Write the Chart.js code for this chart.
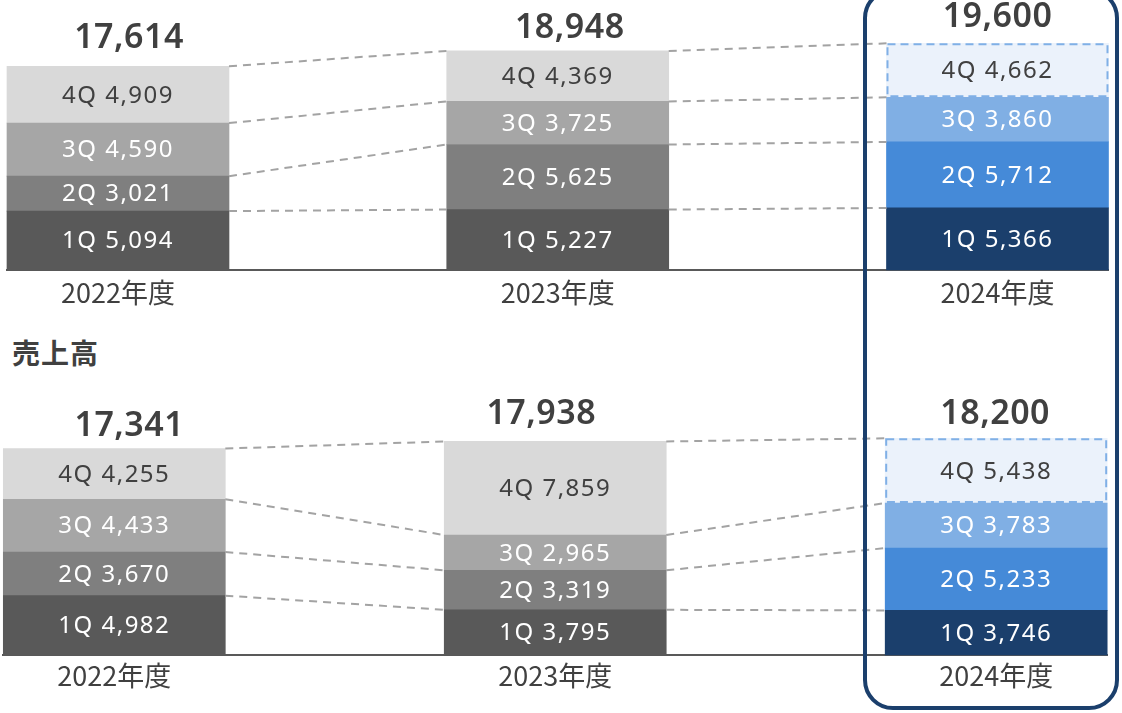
<!DOCTYPE html>
<html><head><meta charset="utf-8">
<script src="https://cdn.jsdelivr.net/npm/chart.js@4.4.1/dist/chart.umd.min.js"></script>
<style>
html,body{margin:0;padding:0;background:#fff;width:1122px;height:713px;overflow:hidden;position:relative;}
#cA{position:absolute;left:0;top:0;}
#cB{position:absolute;left:0;top:380px;}
#title{position:absolute;left:12px;top:332px;font:700 28px "Noto Sans CJK JP";color:#404040;line-height:40px;letter-spacing:1px;}
#hl{position:absolute;left:863px;top:-12px;width:256px;height:722px;border:4px solid #1b3f6c;border-radius:30px;box-sizing:border-box;pointer-events:none;z-index:5;}
</style></head>
<body>
<canvas id="cA" width="1122" height="330"></canvas>
<div id="title">売上高</div>
<canvas id="cB" width="1122" height="333"></canvas>
<div id="hl"></div>
<script>
// ---- data ----
const YEARS = ['2022年度', '2023年度', '2024年度'];
const YEAR_POS = [0, 1, 2];
const QUARTERS = ['1Q', '2Q', '3Q', '4Q'];

// upper chart (title cut off in the source)
const TOP_1Q = [5094, 5227, 5366];
const TOP_2Q = [3021, 5625, 5712];
const TOP_3Q = [4590, 3725, 3860];
const TOP_4Q = [4909, 4369, 4662];
const TOP_TOTAL = [17614, 18948, 19600];

// 売上高
const SALES_1Q = [4982, 3795, 3746];
const SALES_2Q = [3670, 3319, 5233];
const SALES_3Q = [4433, 2965, 3783];
const SALES_4Q = [4255, 7859, 5438];
const SALES_TOTAL = [17341, 17938, 18200];

const FORECAST_4Q = [false, false, true];

// ---- styles ----
const GRAY = ['#595959', '#7f7f7f', '#a6a6a6', '#d9d9d9'];
const BLUE = ['#1b3f6c', '#458ad8', '#80afe4', '#ebf2fb'];
const HIGHLIGHT = 2;
// total-label nudges relative to the top of each stack (px)
const TOP_TOTAL_NUDGE = { dx: [11, 12, 0], dy: [-28, -23, -26] };
const SALES_TOTAL_NUDGE = { dx: [15, -14, -1], dy: [-22, -27, -24] };
const fmt = v => v.toLocaleString('en-US');

const stackDeco = {
  id: 'stackDeco',
  afterDatasetsDraw(chart, args, opts) {
    const ctx = chart.ctx;
    const dsets = chart.data.datasets;
    const metas = dsets.map((d, i) => chart.getDatasetMeta(i));
    const top = metas[metas.length - 1];
    ctx.save();
    // connectors between stacks
    ctx.setLineDash([8, 6]);
    ctx.lineWidth = 2;
    ctx.strokeStyle = '#a3a3a3';
    metas.forEach(m => {
      for (let i = 0; i < m.data.length - 1; i++) {
        const a = m.data[i], b = m.data[i + 1];
        ctx.beginPath();
        ctx.moveTo(a.x + a.width / 2, a.y);
        ctx.lineTo(b.x - b.width / 2, b.y);
        ctx.stroke();
      }
    });
    // forecast dashed border
    ctx.setLineDash([8, 5]);
    ctx.strokeStyle = '#80b0e6';
    opts.forecast.forEach((f, i) => {
      if (!f) return;
      const e = top.data[i];
      ctx.strokeRect(e.x - e.width / 2 + 1, e.y + 1, e.width - 2, e.base - e.y - 2);
    });
    ctx.setLineDash([]);
    // segment labels
    ctx.textAlign = 'center';
    ctx.textBaseline = 'middle';
    ctx.font = '400 24px "Noto Sans"';
    ctx.letterSpacing = '1.5px';
    dsets.forEach((ds, d) => {
      metas[d].data.forEach((e, i) => {
        ctx.fillStyle = ds.labelColor;
        ctx.fillText(ds.label + ' ' + fmt(ds.data[i]), e.x, (e.y + e.base) / 2 + 1);
      });
    });
    // totals
    ctx.font = '600 34px "Noto Sans"';
    ctx.letterSpacing = '0.5px';
    ctx.fillStyle = '#404040';
    top.data.forEach((e, i) => ctx.fillText(fmt(opts.totals[i]), e.x + opts.nudge.dx[i], e.y + opts.nudge.dy[i]));
    ctx.restore();
  }
};

function makeChart(id, series, totals, nudge, padL, padR, yMax, tickPad, axisH) {
  return new Chart(document.getElementById(id), {
    type: 'bar',
    data: {
      labels: YEAR_POS,
      datasets: QUARTERS.map((q, k) => ({
        label: q,
        data: series[k],
        backgroundColor: YEAR_POS.map(i => i === HIGHLIGHT ? BLUE[k] : GRAY[k]),
        labelColor: k === 3 ? '#404040' : '#ffffff',
        barThickness: 222,
        borderWidth: 0,
        clip: false
      }))
    },
    options: {
      responsive: false,
      animation: false,
      layout: { padding: { left: padL, right: padR, top: 0, bottom: 0 } },
      plugins: {
        legend: { display: false },
        tooltip: { enabled: false },
        stackDeco: { totals: totals, forecast: FORECAST_4Q, nudge: nudge }
      },
      scales: {
        x: {
          type: 'linear', stacked: true, offset: false,
          min: -0.2524, max: 2.2513,
          grid: { display: false, drawTicks: false },
          border: { display: true, color: '#595959', width: 2 },
          ticks: {
            stepSize: 1, includeBounds: false, autoSkip: false, maxRotation: 0,
            padding: tickPad, color: '#404040',
            font: { family: '"Noto Sans CJK JP"', size: 27 },
            callback: v => YEARS[v] ?? ''
          },
          afterFit: s => { s.height = axisH; }
        },
        y: { display: false, stacked: true, min: 0, max: yMax }
      }
    },
    plugins: [stackDeco]
  });
}

makeChart('cA', [TOP_1Q, TOP_2Q, TOP_3Q, TOP_4Q], TOP_TOTAL, TOP_TOTAL_NUDGE, 7, 14, 23350, 7, 60);
makeChart('cB', [SALES_1Q, SALES_2Q, SALES_3Q, SALES_4Q], SALES_TOTAL, SALES_TOTAL_NUDGE, 3, 15, 23100, 5, 58);
</script>
</body></html>
